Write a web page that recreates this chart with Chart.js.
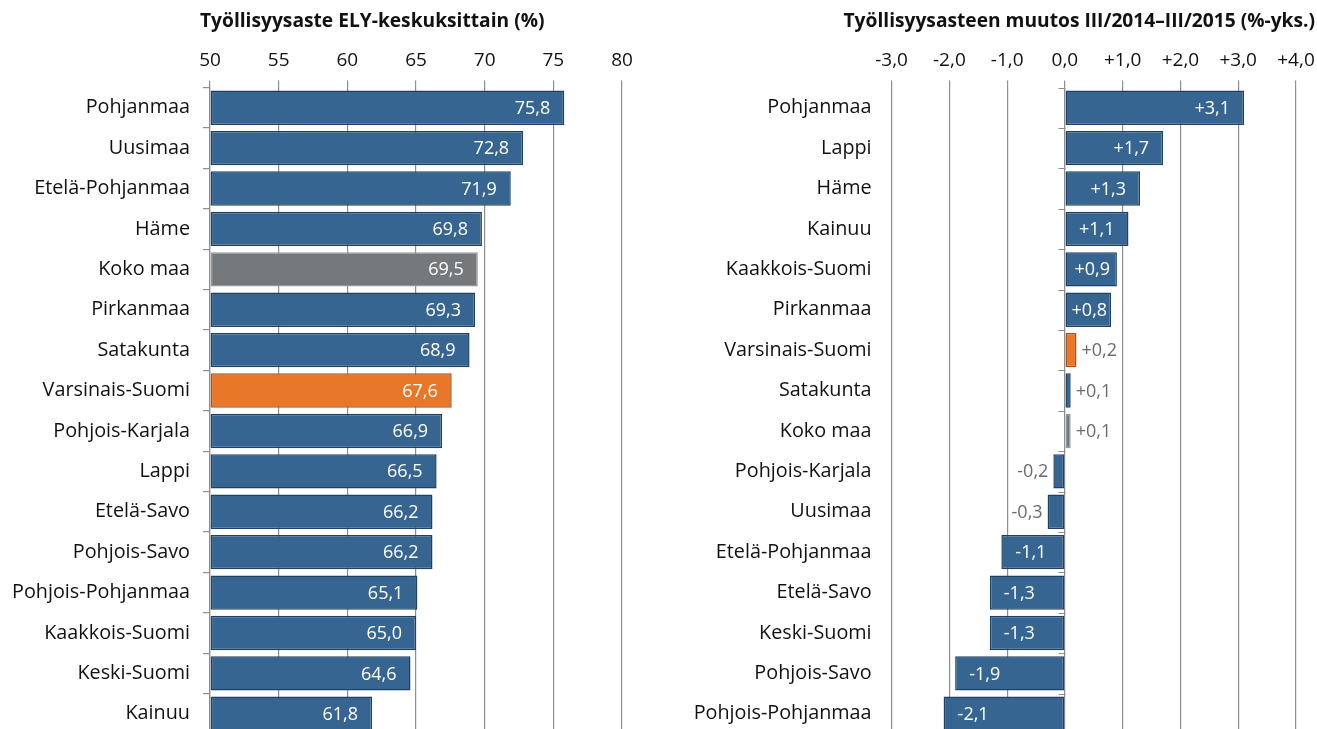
<!DOCTYPE html>
<html><head><meta charset="utf-8">
<script src="https://cdn.jsdelivr.net/npm/chart.js@4.4.1/dist/chart.umd.min.js"></script>
<style>
html,body{margin:0;padding:0;background:#fff;overflow:hidden;width:1317px;height:729px;}
#l{position:absolute;left:0;top:0;width:660px;height:734px;}
#r{position:absolute;left:660px;top:0;width:657px;height:734px;}
</style></head><body>
<div id="l"><canvas id="c1"></canvas></div>
<div id="r"><canvas id="c2"></canvas></div>
<script>
// ---- data ----
const leftTitle = 'Työllisyysaste ELY-keskuksittain (%)';
const leftCategories = ['Pohjanmaa','Uusimaa','Etelä-Pohjanmaa','Häme','Koko maa','Pirkanmaa','Satakunta','Varsinais-Suomi','Pohjois-Karjala','Lappi','Etelä-Savo','Pohjois-Savo','Pohjois-Pohjanmaa','Kaakkois-Suomi','Keski-Suomi','Kainuu'];
const leftValues = [75.8,72.8,71.9,69.8,69.5,69.3,68.9,67.6,66.9,66.5,66.2,66.2,65.1,65.0,64.6,61.8];

const rightTitle = 'Työllisyysasteen muutos III/2014–III/2015 (%-yks.)';
const rightCategories = ['Pohjanmaa','Lappi','Häme','Kainuu','Kaakkois-Suomi','Pirkanmaa','Varsinais-Suomi','Satakunta','Koko maa','Pohjois-Karjala','Uusimaa','Etelä-Pohjanmaa','Etelä-Savo','Keski-Suomi','Pohjois-Savo','Pohjois-Pohjanmaa'];
const rightValues = [3.1,1.7,1.3,1.1,0.9,0.8,0.2,0.1,0.1,-0.2,-0.3,-1.1,-1.3,-1.3,-1.9,-2.1];

const wholeCountry = 'Koko maa';
const ownRegion = 'Varsinais-Suomi';

// ---- styles ----
const FONT = "'Open Sans', 'Noto Sans', sans-serif";
const BLUE = '#376592', BLUE_B = '#1f4166';
const ORANGE = '#e8772a', ORANGE_B = '#a8531c';
const GRAY = '#76797c', GRAY_B = '#95989a';
const GRID = '#8e8e8e';
const TXT = '#111111';

function fillFor(c){ return c===wholeCountry?GRAY:(c===ownRegion?ORANGE:BLUE); }
function borderFor(c){ return c===wholeCountry?GRAY_B:(c===ownRegion?ORANGE_B:BLUE_B); }
const fmt = v => v.toFixed(1).replace('.', ',');
const fmtSigned = v => (v>0?'+':'') + fmt(v);

Chart.defaults.font.family = FONT;
Chart.defaults.font.size = 18;
Chart.defaults.color = TXT;

const titlePlugin = {
  id:'sideTitle',
  afterDraw(chart, args, o){
    const ctx = chart.ctx;
    ctx.save();
    ctx.font = `bold 19.2px ${FONT}`;
    ctx.fillStyle = TXT;
    ctx.textBaseline = 'middle';
    ctx.textAlign = o.align;
    const x = o.align==='left' ? o.offset : chart.width - o.offset;
    ctx.fillText(o.text, x, 22);
    ctx.restore();
  }
};

const valueLabels = {
  id:'valueLabels',
  afterDatasetsDraw(chart, args, o){
    const ctx = chart.ctx;
    const meta = chart.getDatasetMeta(0);
    const data = chart.data.datasets[0].data;
    ctx.save();
    ctx.font = `18px ${FONT}`;
    ctx.textBaseline = 'middle';
    meta.data.forEach((bar,i)=>{
      const v = data[i];
      const txt = o.format(v);
      const w = ctx.measureText(txt).width;
      const base = bar.base, end = bar.x;
      const len = Math.abs(end-base);
      const pos = end >= base;
      if (len > w + 4) {
        ctx.fillStyle = '#ffffff';
        let xr;
        if (pos) {
          ctx.textAlign='right'; xr = end - 14;
          if (xr - w < base + 8) { ctx.textAlign='center'; xr = (base+end)/2 + 1; }
        } else {
          ctx.textAlign='left'; xr = end + 14;
          if (xr + w > base - 8) { ctx.textAlign='center'; xr = (base+end)/2; }
        }
        ctx.fillText(txt, xr, bar.y+1);
      } else {
        ctx.fillStyle = '#6a6b6d';
        if (pos) { ctx.textAlign='left'; ctx.fillText(txt, end+5, bar.y+1); }
        else { ctx.textAlign='right'; ctx.fillText(txt, end-5, bar.y+1); }
      }
    });
    ctx.restore();
  }
};

const zeroTicks = {
  id:'zeroTicks',
  afterDraw(chart, args, o){
    if (!o.enabled) return;
    const ctx = chart.ctx, xs = chart.scales.x, ys = chart.scales.y;
    const x0 = Math.round(xs.getPixelForValue(0)) + 0.5;
    const n = chart.data.labels.length;
    const band = ys.getPixelForValue(1) - ys.getPixelForValue(0);
    ctx.save();
    ctx.strokeStyle = GRID; ctx.lineWidth = 1.2;
    ctx.beginPath();
    for (let i=0;i<=n;i++){
      const y = Math.round(ys.getPixelForValue(i) - band/2) + 0.5;
      ctx.moveTo(x0-7, y); ctx.lineTo(x0, y);
    }
    ctx.stroke();
    ctx.restore();
  }
};

function makeChart(id, cats, vals, opt){
  return new Chart(document.getElementById(id), {
    type:'bar',
    data:{ labels:cats, datasets:[{
      data:vals,
      base: opt.base,
      backgroundColor: cats.map(fillFor),
      borderColor: cats.map(borderFor),
      borderWidth: 1.5,
      borderSkipped: false,
      barPercentage: 0.85,
      categoryPercentage: 1
    }]},
    options:{
      indexAxis:'y',
      responsive:true,
      maintainAspectRatio:false,
      animation:false,
      layout:{ autoPadding:false, padding:{ top:48, right:opt.padRight, bottom:0, left:0 } },
      plugins:{
        legend:{display:false}, tooltip:{enabled:false}, title:{display:false},
        sideTitle:{ text:opt.title, align:opt.titleAlign, offset:opt.titleOffset },
        valueLabels:{ format:opt.format },
        zeroTicks:{ enabled:opt.zeroTicks }
      },
      scales:{
        x:{
          position:'top',
          min:opt.min, max:opt.max,
          ticks:{ stepSize:opt.step, padding:9, color:TXT, font:{size:19}, callback:v=>opt.tickFmt(v) },
          grid:{ color:GRID, lineWidth:1.2, drawTicks:true, tickLength:7, tickColor:GRID },
          border:{ display:false },
          afterFit(s){ s.height = 39.5; s.paddingLeft = 0; s.paddingRight = 0; }
        },
        y:{
          position:'left',
          ticks:{ padding:opt.labelPad, color:TXT, font:{size:19.8} },
          grid:{ display:opt.yTicks, drawOnChartArea:false, drawTicks:true, tickLength:7, color:GRID, lineWidth:1.2, offset:true },
          border:{ display:opt.yTicks, color:GRID, width:1.2 },
          afterFit(s){ s.width = opt.yWidth; s.paddingTop = 0; s.paddingBottom = 0; }
        }
      }
    },
    plugins:[titlePlugin, valueLabels, zeroTicks]
  });
}

makeChart('c1', leftCategories, leftValues, {
  base:50, min:50, max:80, step:5, tickFmt:v=>String(v), format:fmt,
  title:leftTitle, titleAlign:'left', titleOffset:200,
  yWidth:210, labelPad:13, yTicks:true, padRight:38, zeroTicks:false
});
makeChart('c2', rightCategories, rightValues, {
  base:0, min:-3, max:4, step:1, tickFmt:v=>fmtSigned(v), format:fmtSigned,
  title:rightTitle, titleAlign:'right', titleOffset:2,
  yWidth:231.6, labelPad:13, yTicks:false, padRight:21, zeroTicks:true
});
</script>
</body></html>
